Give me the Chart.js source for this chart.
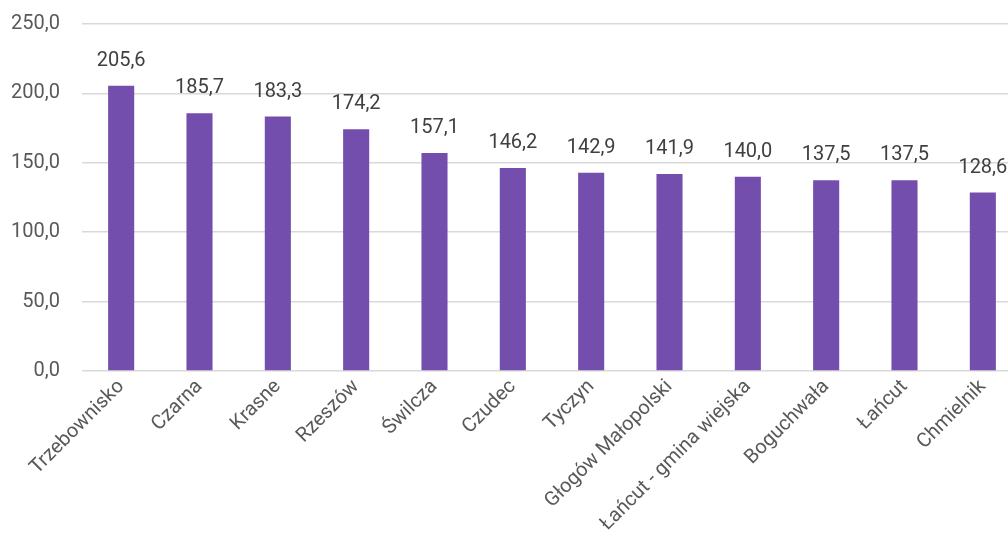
<!DOCTYPE html>
<html>
<head>
<meta charset="utf-8">
<script src="https://cdn.jsdelivr.net/npm/chart.js@4"></script>
<style>
html,body{margin:0;padding:0;background:#fff;overflow:hidden;}
#wrap{width:1022px;height:550px;position:relative;}
</style>
</head>
<body>
<div id="wrap"><canvas id="c"></canvas></div>
<script>
const categories = ["Trzebownisko","Czarna","Krasne","Rzeszów","Świlcza","Czudec","Tyczyn","Głogów Małopolski","Łańcut - gmina wiejska","Boguchwała","Łańcut","Chmielnik"];
const values = [205.6,185.7,183.3,174.2,157.1,146.2,142.9,141.9,140.0,137.5,137.5,128.6];
const yTicks = [0,50,100,150,200,250];

const FONT = 'Roboto, "DejaVu Sans", sans-serif';
const fmt = v => v.toFixed(1).replace('.', ',');

const labelPlugin = {
  id: 'valueLabels',
  afterDatasetsDraw(chart) {
    const ctx = chart.ctx;
    const meta = chart.getDatasetMeta(0);
    ctx.save();
    ctx.font = '20px ' + FONT;
    ctx.fillStyle = '#404040';
    ctx.textAlign = 'center';
    ctx.textBaseline = 'middle';
    meta.data.forEach((bar, i) => {
      ctx.fillText(fmt(values[i]), bar.x, bar.y - 25);
    });
    ctx.restore();
  }
};

new Chart(document.getElementById('c'), {
  type: 'bar',
  data: {
    labels: categories,
    datasets: [{
      data: values,
      backgroundColor: '#744EAC',
      borderWidth: 0,
      categoryPercentage: 1,
      barPercentage: 0.333
    }]
  },
  options: {
    responsive: true,
    maintainAspectRatio: false,
    animation: false,
    layout: { padding: { top: 24, right: 0, left: 0, bottom: 0 } },
    plugins: { legend: { display: false }, tooltip: { enabled: false } },
    scales: {
      x: {
        grid: { display: false, drawTicks: false },
        border: { display: false },
        ticks: {
          font: { family: FONT, size: 20 },
          color: '#595959',
          maxRotation: 45,
          minRotation: 45,
          autoSkip: false,
          padding: 4
        },
        afterFit(scale) { scale.height = 179; scale.paddingLeft = 0; scale.paddingRight = 0; }
      },
      y: {
        min: 0,
        max: 250,
        afterBuildTicks(scale) { scale.ticks = yTicks.map(v => ({ value: v })); },
        grid: { color: '#d9d9d9', lineWidth: 1.5, drawTicks: false },
        border: { display: false },
        ticks: {
          font: { family: FONT, size: 20 },
          color: '#595959',
          padding: 22,
          callback: v => fmt(v)
        },
        afterFit(scale) { scale.width = 82; scale.paddingTop = 0; scale.paddingBottom = 0; }
      }
    }
  },
  plugins: [labelPlugin]
});
</script>
</body>
</html>
